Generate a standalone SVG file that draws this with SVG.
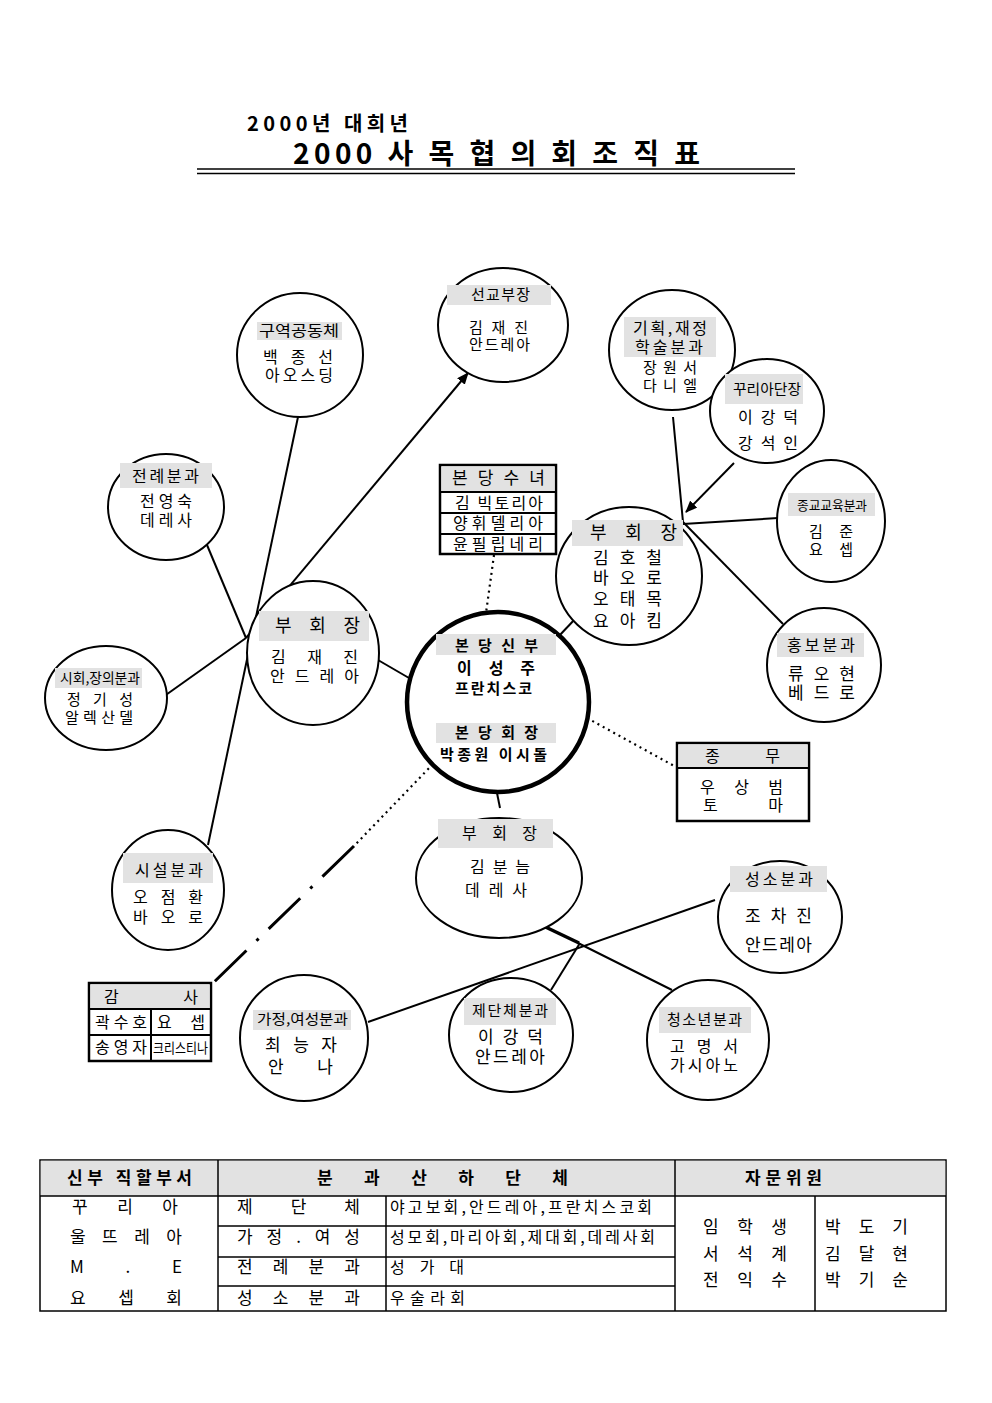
<svg xmlns="http://www.w3.org/2000/svg" width="992" height="1403" viewBox="0 0 992 1403">
<style>
text{font-family:"Noto Sans CJK KR","Noto Sans",sans-serif;fill:#000}
.n{fill:#fff;stroke:#000;stroke-width:2}
.lb{fill:#e2e2e2}
.bx{fill:#fff;stroke:#000;stroke-width:2.5}
.ln{stroke:#000;stroke-width:2;fill:none}
.dot{stroke:#000;stroke-width:2.2;stroke-dasharray:2 4;fill:none}
.f13{font-size:13px}.f14{font-size:14px}.f15{font-size:15px}.f16{font-size:16px}.f17{font-size:17px}.f18{font-size:18px}
.b{font-weight:bold}
</style>
<defs>
<marker id="ah" viewBox="0 0 12 10" refX="11" refY="5" markerWidth="12" markerHeight="10" markerUnits="userSpaceOnUse" orient="auto">
<path d="M0,0 L12,5 L0,10 z" fill="#000"/>
</marker>
</defs>
<rect width="992" height="1403" fill="#fff"/>
<g id="title">
<text class="b" x="247" y="131" font-size="20" textLength="161" lengthAdjust="spacing">2000년 대희년</text>
<text class="b" x="293" y="164" font-size="28" textLength="407" lengthAdjust="spacing">2000 사 목 협 의 회 조 직 표</text>
<line x1="197" y1="169" x2="795" y2="169" stroke="#000" stroke-width="1.5"/>
<line x1="197" y1="173.5" x2="795" y2="173.5" stroke="#000" stroke-width="1.5"/>
</g>
<g id="connectors">
<line class="ln" x1="298" y1="417" x2="208" y2="845"/>
<line class="ln" x1="207" y1="545" x2="246" y2="638"/>
<line class="ln" x1="163" y1="697" x2="246" y2="638"/>
<line class="ln" x1="246" y1="638" x2="468" y2="373" marker-end="url(#ah)"/>
<line class="ln" x1="378" y1="660" x2="409" y2="678"/>
<line class="dot" x1="494" y1="555" x2="486" y2="613"/>
<line class="ln" x1="559" y1="636" x2="575" y2="619"/>
<line class="dot" x1="587" y1="718" x2="676" y2="767"/>
<line class="dot" x1="433" y1="764" x2="354" y2="846"/>
<line x1="354" y1="846" x2="212" y2="984" stroke="#000" stroke-width="3" stroke-dasharray="44 14 3 14"/>
<line class="ln" x1="497" y1="793" x2="500" y2="808"/>
<line x1="535" y1="922" x2="579" y2="943" stroke="#000" stroke-width="3.5"/>
<line class="ln" x1="578" y1="943" x2="672" y2="990"/>
<line class="ln" x1="715" y1="900" x2="368" y2="1022"/>
<line class="ln" x1="580" y1="943" x2="551" y2="990"/>
<line class="ln" x1="673" y1="417" x2="683" y2="522"/>
<line class="ln" x1="734" y1="463" x2="686" y2="512" marker-end="url(#ah)"/>
<line class="ln" x1="778" y1="518" x2="683" y2="524"/>
<line class="ln" x1="683" y1="522" x2="783" y2="624"/>
</g>
<g id="n-guyeok">
<ellipse class="n" cx="300" cy="355" rx="63" ry="62"/>
<rect class="lb" x="257" y="322" width="85" height="18"/>
<text class="f15" x="259" y="336" textLength="80" lengthAdjust="spacingAndGlyphs">구역공동체</text>
<text class="f16" x="263" y="363" textLength="70" lengthAdjust="spacing">백 종 선</text>
<text class="f16" x="265" y="381" textLength="68" lengthAdjust="spacing">아오스딩</text>
</g>
<g id="n-seongyo">
<ellipse class="n" cx="503" cy="325" rx="65" ry="57"/>
<rect class="lb" x="447" y="285" width="104" height="20"/>
<text class="f15" x="471" y="300" textLength="59" lengthAdjust="spacing">선교부장</text>
<text class="f15" x="469" y="333" textLength="59" lengthAdjust="spacing">김 재 진</text>
<text class="f15" x="469" y="350" textLength="61" lengthAdjust="spacing">안드레아</text>
</g>
<g id="n-gihoek">
<ellipse class="n" cx="672" cy="350" rx="63" ry="60"/>
<rect class="lb" x="624" y="317" width="92" height="40"/>
<text class="f16" x="633" y="334" textLength="74" lengthAdjust="spacing">기획,재정</text>
<text class="f16" x="635" y="353" textLength="68" lengthAdjust="spacing">학술분과</text>
<text class="f15" x="643" y="373" textLength="54" lengthAdjust="spacing">장원서</text>
<text class="f15" x="643" y="391" textLength="54" lengthAdjust="spacing">다니엘</text>
</g>
<g id="n-curia">
<ellipse class="n" cx="767" cy="411" rx="57" ry="52"/>
<rect class="lb" x="725" y="374" width="78" height="30"/>
<text class="f14" x="733" y="394" textLength="68" lengthAdjust="spacingAndGlyphs">꾸리아단장</text>
<text class="f16" x="738" y="423" textLength="60" lengthAdjust="spacing">이 강 덕</text>
<text class="f16" x="738" y="449" textLength="60" lengthAdjust="spacing">강 석 인</text>
</g>
<g id="n-jeonrye">
<ellipse class="n" cx="166" cy="507" rx="58" ry="53"/>
<rect class="lb" x="120" y="463" width="92" height="25"/>
<text class="f16" x="132" y="482" textLength="67" lengthAdjust="spacing">전례분과</text>
<text class="f16" x="140" y="507" textLength="52" lengthAdjust="spacing">전영숙</text>
<text class="f16" x="140" y="526" textLength="52" lengthAdjust="spacing">데레사</text>
</g>
<g id="n-vp-left">
<ellipse class="n" cx="313" cy="653" rx="66" ry="72"/>
<rect class="lb" x="259" y="611" width="110" height="30"/>
<text class="f18" x="275" y="632" textLength="85" lengthAdjust="spacing">부 회 장</text>
<text class="f16" x="271" y="663" textLength="87" lengthAdjust="spacing">김 재 진</text>
<text class="f16" x="270" y="682" textLength="89" lengthAdjust="spacing">안 드 레 아</text>
</g>
<g id="n-sahoe">
<ellipse class="n" cx="106" cy="698" rx="61" ry="52"/>
<rect class="lb" x="55" y="668" width="87" height="20"/>
<text class="f14" x="60" y="683" textLength="80" lengthAdjust="spacingAndGlyphs">시회,장의분과</text>
<text class="f15" x="67" y="705" textLength="66" lengthAdjust="spacing">정 기 성</text>
<text class="f15" x="65" y="723" textLength="68" lengthAdjust="spacing">알렉산델</text>
</g>
<g id="n-siseol">
<ellipse class="n" cx="168" cy="890" rx="56" ry="60"/>
<rect class="lb" x="123" y="853" width="90" height="30"/>
<text class="f16" x="135" y="876" textLength="68" lengthAdjust="spacing">시설분과</text>
<text class="f16" x="133" y="903" textLength="70" lengthAdjust="spacing">오 점 환</text>
<text class="f16" x="133" y="923" textLength="70" lengthAdjust="spacing">바 오 로</text>
</g>
<g id="n-center">
<ellipse cx="498" cy="702" rx="91" ry="90" fill="#fff" stroke="#000" stroke-width="4.5"/>
<rect class="lb" x="436" y="634" width="120" height="21"/>
<text class="f15 b" x="455" y="651" textLength="83" lengthAdjust="spacing">본 당 신 부</text>
<text class="f16 b" x="457" y="674" textLength="78" lengthAdjust="spacing">이 성 주</text>
<text class="f15 b" x="455" y="694" textLength="77" lengthAdjust="spacing">프란치스코</text>
<rect class="lb" x="436" y="723" width="120" height="20"/>
<text class="f15 b" x="455" y="738" textLength="83" lengthAdjust="spacing">본 당 회 장</text>
<text class="f15 b" x="440" y="760" textLength="107" lengthAdjust="spacing">박종원 이시돌</text>
</g>
<g id="n-sisters">
<rect class="bx" x="440" y="465" width="116" height="89"/>
<rect x="441.5" y="466.5" width="113" height="25" fill="#e2e2e2"/>
<line class="ln" x1="440" y1="492" x2="556" y2="492"/>
<line class="ln" x1="440" y1="513" x2="556" y2="513"/>
<line class="ln" x1="440" y1="534" x2="556" y2="534"/>
<text class="f17" x="452" y="484" textLength="93" lengthAdjust="spacing">본 당 수 녀</text>
<text class="f16" x="455" y="509" textLength="88" lengthAdjust="spacing">김 빅토리아</text>
<text class="f16" x="453" y="529" textLength="90" lengthAdjust="spacing">양휘델리아</text>
<text class="f16" x="453" y="550" textLength="90" lengthAdjust="spacing">윤필립네리</text>
</g>
<g id="n-vp-right">
<ellipse class="n" cx="629" cy="576" rx="73" ry="69"/>
<rect class="lb" x="572" y="520" width="111" height="26"/>
<text class="f18" x="590" y="539" textLength="87" lengthAdjust="spacing">부 회 장</text>
<text class="f17" x="593" y="564" textLength="69" lengthAdjust="spacing">김 호 철</text>
<text class="f17" x="593" y="584" textLength="69" lengthAdjust="spacing">바 오 로</text>
<text class="f17" x="593" y="605" textLength="69" lengthAdjust="spacing">오 태 목</text>
<text class="f17" x="593" y="627" textLength="69" lengthAdjust="spacing">요 아 킴</text>
</g>
<g id="n-jonggyo">
<ellipse class="n" cx="831" cy="521" rx="54" ry="61"/>
<rect class="lb" x="788" y="493" width="87" height="23"/>
<text class="f13" x="797" y="510" textLength="70" lengthAdjust="spacingAndGlyphs">종교교육분과</text>
<text class="f15" x="809" y="537" textLength="44" lengthAdjust="spacing">김 준</text>
<text class="f15" x="809" y="555" textLength="44" lengthAdjust="spacing">요 셉</text>
</g>
<g id="n-hongbo">
<ellipse class="n" cx="824" cy="665" rx="57" ry="57"/>
<rect class="lb" x="777" y="633" width="87" height="24"/>
<text class="f16" x="787" y="651" textLength="68" lengthAdjust="spacing">홍보분과</text>
<text class="f17" x="788" y="680" textLength="67" lengthAdjust="spacing">류 오 현</text>
<text class="f17" x="788" y="699" textLength="67" lengthAdjust="spacing">베 드 로</text>
</g>
<g id="n-chongmu">
<rect class="bx" x="677" y="743" width="132" height="78"/>
<rect x="678.5" y="744.5" width="129" height="23" fill="#e2e2e2"/>
<line class="ln" x1="677" y1="768" x2="809" y2="768"/>
<text class="f16" x="705" y="762" textLength="75" lengthAdjust="spacing">종 무</text>
<text class="f16" x="700" y="793" textLength="83" lengthAdjust="spacing">우 상 범</text>
<text class="f16" x="703" y="811" textLength="80" lengthAdjust="spacing">토 마</text>
</g>
<g id="n-vp-bottom">
<ellipse class="n" cx="499" cy="878" rx="83" ry="60"/>
<rect class="lb" x="438" y="819" width="115" height="29"/>
<text class="f16" x="462" y="839" textLength="75" lengthAdjust="spacing">부 회 장</text>
<text class="f16" x="470" y="873" textLength="60" lengthAdjust="spacing">김 분 늠</text>
<text class="f16" x="465" y="896" textLength="62" lengthAdjust="spacing">데 레 사</text>
</g>
<g id="n-seongso">
<ellipse class="n" cx="780" cy="917" rx="62" ry="56"/>
<rect class="lb" x="730" y="866" width="97" height="26"/>
<text class="f16" x="745" y="885" textLength="68" lengthAdjust="spacing">성소분과</text>
<text class="f17" x="745" y="922" textLength="67" lengthAdjust="spacing">조 차 진</text>
<text class="f17" x="745" y="951" textLength="67" lengthAdjust="spacing">안드레아</text>
</g>
<g id="n-jedanche">
<ellipse class="n" cx="511" cy="1035" rx="62" ry="57"/>
<rect class="lb" x="464" y="998" width="92" height="27"/>
<text class="f15" x="472" y="1016" textLength="76" lengthAdjust="spacing">제단체분과</text>
<text class="f17" x="478" y="1043" textLength="65" lengthAdjust="spacing">이 강 덕</text>
<text class="f17" x="475" y="1063" textLength="70" lengthAdjust="spacing">안드레아</text>
</g>
<g id="n-youth">
<ellipse class="n" cx="708" cy="1040" rx="61" ry="60"/>
<rect class="lb" x="659" y="1007" width="92" height="26"/>
<text class="f15" x="667" y="1025" textLength="75" lengthAdjust="spacing">청소년분과</text>
<text class="f16" x="670" y="1052" textLength="68" lengthAdjust="spacing">고 명 서</text>
<text class="f16" x="670" y="1071" textLength="68" lengthAdjust="spacing">가시아노</text>
</g>
<g id="n-family">
<ellipse class="n" cx="304" cy="1038" rx="64" ry="63"/>
<rect class="lb" x="253" y="1010" width="98" height="20"/>
<text class="f14" x="257" y="1024" textLength="91" lengthAdjust="spacingAndGlyphs">가정,여성분과</text>
<text class="f17" x="265" y="1051" textLength="72" lengthAdjust="spacing">최 능 자</text>
<text class="f17" x="268" y="1073" textLength="65" lengthAdjust="spacing">안 나</text>
</g>
<g id="n-gamsa">
<rect class="bx" x="89" y="983" width="122" height="78"/>
<rect x="90.5" y="984.5" width="119" height="24" fill="#e2e2e2"/>
<line class="ln" x1="89" y1="1009" x2="211" y2="1009"/>
<line class="ln" x1="89" y1="1035" x2="211" y2="1035"/>
<line class="ln" x1="151" y1="1009" x2="151" y2="1061"/>
<text class="f16" x="104" y="1003" textLength="94" lengthAdjust="spacing">감 사</text>
<text class="f16" x="95" y="1028" textLength="52" lengthAdjust="spacing">곽수호</text>
<text class="f16" x="157" y="1028" textLength="48" lengthAdjust="spacing">요 셉</text>
<text class="f16" x="95" y="1053" textLength="52" lengthAdjust="spacing">송영자</text>
<text class="f14" x="153" y="1053" textLength="55" lengthAdjust="spacingAndGlyphs">크리스티나</text>
</g>
<g id="table">
<rect x="40" y="1160" width="906" height="151" fill="#fff" stroke="#000" stroke-width="1.5"/>
<rect x="40.75" y="1160.75" width="904.5" height="35.25" fill="#e2e2e2"/>
<line x1="40" y1="1196" x2="946" y2="1196" stroke="#000" stroke-width="1.5"/>
<line x1="218" y1="1160" x2="218" y2="1311" stroke="#000" stroke-width="1.5"/>
<line x1="675" y1="1160" x2="675" y2="1311" stroke="#000" stroke-width="1.5"/>
<line x1="386" y1="1196" x2="386" y2="1311" stroke="#000" stroke-width="1.5"/>
<line x1="815" y1="1196" x2="815" y2="1311" stroke="#000" stroke-width="1.5"/>
<line x1="218" y1="1226" x2="675" y2="1226" stroke="#000" stroke-width="1.5"/>
<line x1="218" y1="1257" x2="675" y2="1257" stroke="#000" stroke-width="1.5"/>
<line x1="218" y1="1286" x2="675" y2="1286" stroke="#000" stroke-width="1.5"/>
<text class="f17 b" x="67" y="1184" textLength="125" lengthAdjust="spacing">신부 직할부서</text>
<text class="f17 b" x="317" y="1184" textLength="251" lengthAdjust="spacing">분 과 산 하 단 체</text>
<text class="f17 b" x="745" y="1184" textLength="77" lengthAdjust="spacing">자 문 위 원</text>
<text class="f17" x="72" y="1213" textLength="106" lengthAdjust="spacing">꾸 리 아</text>
<text class="f17" x="70" y="1243" textLength="112" lengthAdjust="spacing">울 뜨 레 아</text>
<text class="f17" x="70" y="1273" textLength="112" lengthAdjust="spacing">M . E</text>
<text class="f17" x="70" y="1304" textLength="112" lengthAdjust="spacing">요 셉 회</text>
<text class="f17" x="237" y="1213" textLength="123" lengthAdjust="spacing">제 단 체</text>
<text class="f17" x="237" y="1243" textLength="123" lengthAdjust="spacing">가 정 . 여 성</text>
<text class="f17" x="237" y="1273" textLength="123" lengthAdjust="spacing">전 례 분 과</text>
<text class="f17" x="237" y="1304" textLength="123" lengthAdjust="spacing">성 소 분 과</text>
<text class="f16" x="390" y="1213" textLength="262" lengthAdjust="spacing">야고보회,안드레아,프란치스코회</text>
<text class="f16" x="390" y="1243" textLength="265" lengthAdjust="spacing">성모회,마리아회,제대회,데레사회</text>
<text class="f16" x="390" y="1273" textLength="74" lengthAdjust="spacing">성 가 대</text>
<text class="f16" x="390" y="1304" textLength="75" lengthAdjust="spacing">우술라회</text>
<text class="f17" x="703" y="1233" textLength="84" lengthAdjust="spacing">임 학 생</text>
<text class="f17" x="703" y="1260" textLength="84" lengthAdjust="spacing">서 석 계</text>
<text class="f17" x="703" y="1286" textLength="84" lengthAdjust="spacing">전 익 수</text>
<text class="f17" x="825" y="1233" textLength="83" lengthAdjust="spacing">박 도 기</text>
<text class="f17" x="825" y="1260" textLength="83" lengthAdjust="spacing">김 달 현</text>
<text class="f17" x="825" y="1286" textLength="83" lengthAdjust="spacing">박 기 순</text>
</g>
</svg>
